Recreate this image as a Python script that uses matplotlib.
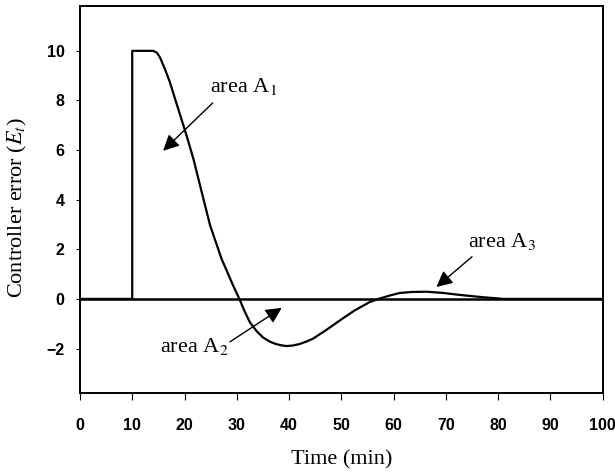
import matplotlib
matplotlib.use('Agg')
import matplotlib.pyplot as plt

# values
time = [0, 10, 10, 14, 14.7, 15.3, 16.25, 17.2, 18.2, 19.1, 20.4, 21.7, 23.3, 24.9,
        27.1, 29.3, 30.5, 31.5, 32.5, 33.8, 35, 36.3, 37.5, 38.5, 39.5, 40.7, 42,
        43.3, 44.6, 47, 49.7, 52.5, 55.4, 57.4, 59.5, 61.2, 63.5, 66.3, 69.5, 72.7,
        77, 81, 100]
error = [0, 0, 10, 10, 9.93, 9.74, 9.27, 8.74, 8.06, 7.46, 6.58, 5.65, 4.3, 2.96,
         1.61, 0.54, 0, -0.5, -0.94, -1.3, -1.55, -1.72, -1.82, -1.87, -1.9, -1.88, -1.82,
         -1.72, -1.6, -1.27, -0.87, -0.47, -0.13, 0.02, 0.15, 0.24, 0.28, 0.29, 0.24, 0.16,
         0.07, 0.0, 0.0]

xticks = [0, 10, 20, 30, 40, 50, 60, 70, 80, 90, 100]
yticks = [-2, 0, 2, 4, 6, 8, 10]

plt.rcParams['mathtext.fontset'] = 'stix'
serif = ['Liberation Serif', 'DejaVu Serif']
sans = ['Liberation Sans', 'DejaVu Sans']

fig = plt.figure(figsize=(6.15, 4.76), dpi=100)
ax = fig.add_axes([0.130, 0.174, 0.850, 0.813])

ax.axhline(0, color='black', linewidth=1.8)
ax.plot(time, error, color='black', linewidth=1.6)

ax.set_xlim(0, 100)
ax.set_ylim(-3.8, 11.8)
ax.set_xticks(xticks)
ax.set_yticks(yticks)
ax.tick_params(axis='x', direction='out', length=5, pad=13)
ax.tick_params(axis='y', direction='out', length=3, pad=8)
for lab in ax.get_xticklabels() + ax.get_yticklabels():
    lab.set_family(sans)
    lab.set_fontweight('bold')
    lab.set_fontsize(11.5)
for sp in ax.spines.values():
    sp.set_linewidth(1.4)

ax.set_xlabel('Time (min)', family=serif, fontsize=16, labelpad=12)
ax.set_ylabel('Controller error ($E_t$)', family=serif, fontsize=16)
ax.yaxis.set_label_coords(-0.097, 0.48)

arrow = dict(arrowstyle='-|>', color='black', linewidth=1.0, mutation_scale=24,
             shrinkA=0, shrinkB=0)
ax.text(24.9, 8.55, 'area A$_1$', family=serif, fontsize=16, va='center', ha='left')
ax.annotate('', xy=(15.9, 5.97), xytext=(25.4, 7.9), arrowprops=arrow)
ax.text(28.5, -1.9, 'area A$_2$', family=serif, fontsize=16, va='center', ha='right')
ax.annotate('', xy=(38.6, -0.36), xytext=(28.7, -1.73), arrowprops=arrow)
ax.text(74.2, 2.3, 'area A$_3$', family=serif, fontsize=16, va='center', ha='left')
ax.annotate('', xy=(68.2, 0.48), xytext=(75, 1.7), arrowprops=arrow)

plt.savefig('out.png', dpi=100)
